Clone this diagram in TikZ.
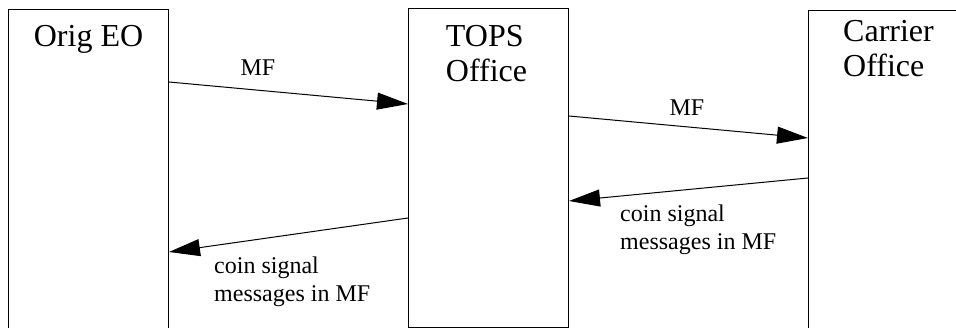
\documentclass[tikz,border=0pt]{standalone}
\usepackage{fontspec}
\setmainfont{Liberation Serif}
\usetikzlibrary{positioning,arrows.meta}

\begin{document}
\begin{tikzpicture}[x=1pt, y=-1pt,
      office/.style={draw, line width=1pt, anchor=north west, inner sep=0pt,
                     minimum width=160pt},
      title/.style={inner sep=0pt, align=left, font=\fontsize{32}{35}\selectfont},
      note/.style={inner sep=0pt, align=left, font=\fontsize{24}{28}\selectfont},
      msg/.style={line width=1pt, -{Triangle[length=31pt, width=17pt]}}
  ]
    \useasboundingbox (0,0) rectangle (956,328);
    \node[office, minimum height=330pt] (orig) at (8,9) {};
    \node[office, minimum height=319pt] (tops) at (408,8) {};
    \node[office, minimum height=330pt] (carrier) at (808,10) {};
    \node[title, below=16pt of orig.north] (orig-name) {Orig EO};
    \node[title, below=17pt of tops.north, xshift=-2pt] (tops-name) {TOPS\\Office};
    \node[title, below=10pt of carrier.north] (carrier-name) {Carrier\\Office};
    \draw[msg] ([yshift=-73pt]orig.north east) -- ([yshift=-96pt]tops.north west);
    \draw[msg] ([yshift=-210pt]tops.north west) -- ([yshift=-243pt]orig.north east);
    \draw[msg] ([yshift=-108pt]tops.north east) -- ([yshift=-128pt]carrier.north west);
    \draw[msg] ([yshift=-168pt]carrier.north west) -- ([yshift=-193pt]tops.north east);
    \node[note, anchor=north] (mf-left) at (258,60) {MF};
    \node[note, anchor=north] (mf-right) at (687,100) {MF};
    \node[note, anchor=north west] (coin-left) at (214,257) {coin signal\\messages in MF};
    \node[note, anchor=north west] (coin-right) at (620,205) {coin signal\\messages in MF};
  \end{tikzpicture}
\end{document}
